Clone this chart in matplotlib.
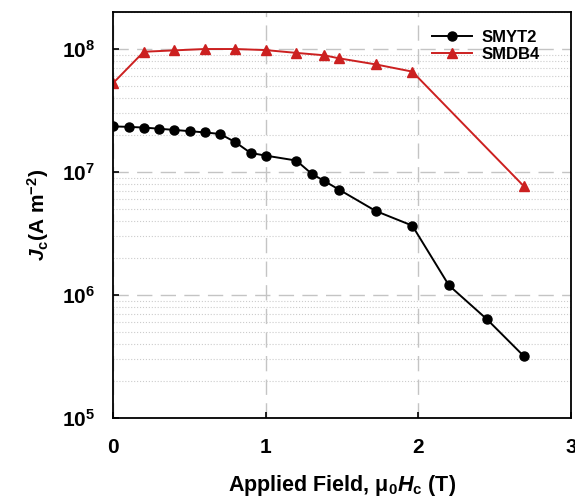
import matplotlib
matplotlib.use('Agg')
import matplotlib.pyplot as plt
from matplotlib.ticker import LogLocator, FixedLocator, NullFormatter

# SMYT2 (black circles)
smyt2_field = [0.0, 0.1, 0.2, 0.3, 0.4, 0.5, 0.6, 0.7, 0.8, 0.9, 1.0,
               1.2, 1.3, 1.38, 1.48, 1.72, 1.96, 2.2, 2.45, 2.69]
smyt2_jc = [2.35e7, 2.33e7, 2.3e7, 2.25e7, 2.2e7, 2.15e7, 2.1e7, 2.04e7, 1.75e7, 1.43e7, 1.36e7,
            1.24e7, 9.7e6, 8.5e6, 7.2e6, 4.83e6, 3.67e6, 1.2e6, 6.35e5, 3.2e5]

# SMDB4 (red triangles)
smdb4_field = [0.0, 0.2, 0.4, 0.6, 0.8, 1.0, 1.2, 1.38, 1.48, 1.72, 1.96, 2.69]
smdb4_jc = [5.3e7, 9.5e7, 9.75e7, 1.0e8, 1.0e8, 9.8e7, 9.3e7, 8.9e7, 8.4e7, 7.5e7, 6.55e7, 7.7e6]

x_ticks = [0, 1, 2, 3]
y_ticks = [1e5, 1e6, 1e7, 1e8]
y_ticklabels = ['$10^{5}$', '$10^{6}$', '$10^{7}$', '$10^{8}$']

plt.rcParams['font.family'] = ['Liberation Sans', 'DejaVu Sans']
plt.rcParams['font.weight'] = 'bold'
plt.rcParams['mathtext.fontset'] = 'custom'
plt.rcParams['mathtext.rm'] = 'Liberation Sans:bold'
plt.rcParams['mathtext.bf'] = 'Liberation Sans:bold'
plt.rcParams['mathtext.it'] = 'Liberation Sans:italic:bold'

fig = plt.figure(figsize=(5.75, 4.99), dpi=100)
ax = fig.add_axes([0.197, 0.162, 0.796, 0.814])

ax.plot(smyt2_field, smyt2_jc, '-o', color='black', lw=1.4, ms=6.5, label='SMYT2')
ax.plot(smdb4_field, smdb4_jc, '-^', color='#cc2020', lw=1.4, ms=7, label='SMDB4')

ax.set_yscale('log')
ax.set_xlim(0, 3)
ax.set_ylim(1e5, 2e8)

ax.xaxis.set_major_locator(FixedLocator(x_ticks))
ax.set_xticklabels([str(t) for t in x_ticks])
ax.yaxis.set_major_locator(FixedLocator(y_ticks))
ax.set_yticklabels(y_ticklabels)
ax.yaxis.set_minor_locator(LogLocator(base=10, subs=range(2, 10)))
ax.yaxis.set_minor_formatter(NullFormatter())

ax.tick_params(axis='both', which='major', direction='in', length=4, width=1.2,
               labelsize=15)
ax.tick_params(axis='x', which='major', pad=14)
ax.tick_params(axis='y', which='major', pad=13)
ax.tick_params(axis='y', which='minor', length=0)

ax.grid(True, which='major', axis='both', color='#c4c4c4', lw=1.0, ls=(0, (11, 6)))
ax.grid(True, which='minor', axis='y', color='#cccccc', lw=0.8, ls=':')
ax.set_axisbelow(True)

for s in ax.spines.values():
    s.set_linewidth(1.3)

ax.set_xlabel('Applied Field, \u03bc$_0$$H_{\\rm c}$ (T)', fontsize=15.5,
              fontweight='bold', labelpad=12)
ax.set_ylabel('$J_{\\rm c}$(A m$^{-2}$)', fontsize=15, fontweight='bold', labelpad=8)

ax.legend(loc='upper right', frameon=False, fontsize=12, handlelength=2.4,
          handletextpad=0.6, labelspacing=0.1, borderpad=0, borderaxespad=0,
          bbox_to_anchor=(0.932, 0.955))

fig.savefig('out.png', dpi=100)
